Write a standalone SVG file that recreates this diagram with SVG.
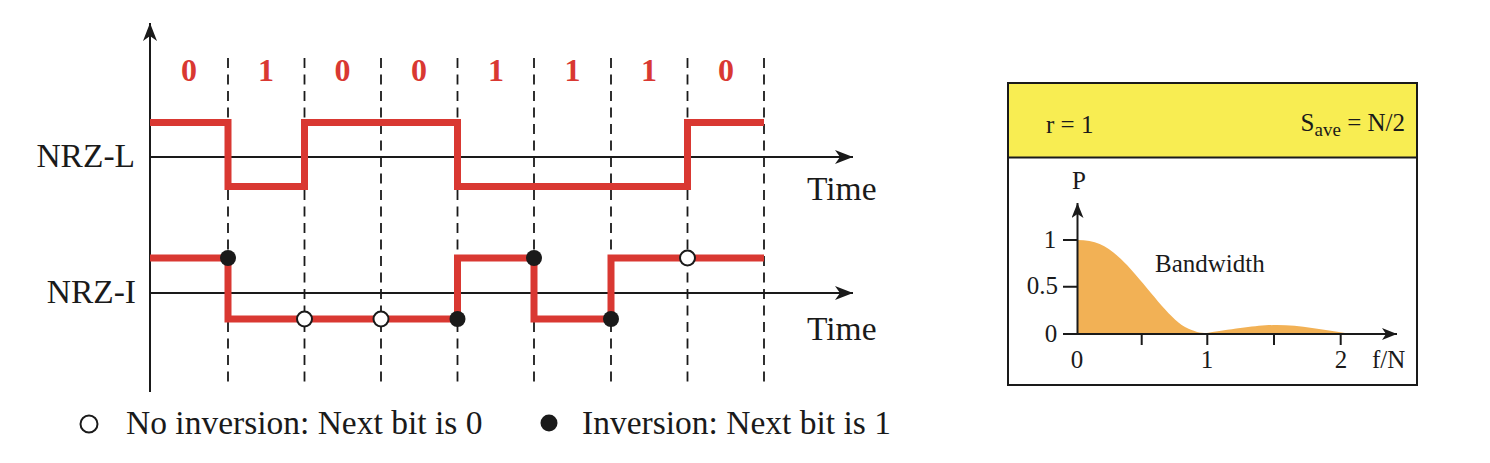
<svg xmlns="http://www.w3.org/2000/svg" width="1490" height="463" viewBox="0 0 1490 463">
<defs>
<style>
.axis{stroke:#1a1a1a;stroke-width:2;fill:none}
.dash{stroke:#1a1a1a;stroke-width:1.8;stroke-dasharray:10,6.5;fill:none}
.sig{stroke:#d93832;stroke-width:7;fill:none;stroke-linejoin:miter;stroke-linecap:butt}
.bit{font-family:"Liberation Serif",serif;font-weight:bold;font-size:32px;fill:#d93832;text-anchor:middle}
.lbl{font-family:"Liberation Serif",serif;font-size:33.5px;fill:#1a1a1a}
.sm{font-family:"Liberation Serif",serif;font-size:25px;fill:#1a1a1a}
.fdot{fill:#1a1a1a}
.odot{fill:#fff;stroke:#1a1a1a;stroke-width:2}
</style>
<marker id="ah" markerWidth="20" markerHeight="14" refX="18" refY="7" orient="auto" markerUnits="userSpaceOnUse">
<path d="M0,0 L18,7 L0,14 L5,7 Z" fill="#1a1a1a"/>
</marker>
<marker id="ahs" markerWidth="16" markerHeight="12" refX="15" refY="6" orient="auto" markerUnits="userSpaceOnUse">
<path d="M0,0 L15,6 L0,12 L4,6 Z" fill="#1a1a1a"/>
</marker>
</defs>
<rect width="1490" height="463" fill="#fff"/>

<g id="grid">
<path class="dash" d="M228,58V387M304.5,58V387M381,58V387M457.5,58V387M534,58V387M611,58V387M687.5,58V387M764,58V387"/>
</g>

<g id="bits">
<text class="bit" x="189" y="81">0</text>
<text class="bit" x="266" y="81">1</text>
<text class="bit" x="342.5" y="81">0</text>
<text class="bit" x="419" y="81">0</text>
<text class="bit" x="496" y="81">1</text>
<text class="bit" x="572.5" y="81">1</text>
<text class="bit" x="649" y="81">1</text>
<text class="bit" x="726" y="81">0</text>
</g>

<g id="connectors">
<line class="axis" x1="150" y1="392" x2="150" y2="23" marker-end="url(#ah)"/>
<line class="axis" x1="150" y1="157" x2="853" y2="157" marker-end="url(#ah)"/>
<line class="axis" x1="150" y1="293" x2="853" y2="293" marker-end="url(#ah)"/>
</g>

<g id="nrzl">
<path class="sig" d="M150,122.5H228V186.5H304.5V122.5H457.5V186.5H687.5V122.5H764"/>
<text class="lbl" x="135" y="167" text-anchor="end">NRZ-L</text>
<text class="lbl" x="807" y="200">Time</text>
</g>

<g id="nrzi">
<path class="sig" d="M150,258H228V319H457.5V258H534V319H611V258H764"/>
<circle class="fdot" cx="228" cy="258" r="8"/>
<circle class="odot" cx="304.5" cy="319" r="7.5"/>
<circle class="odot" cx="381" cy="319" r="7.5"/>
<circle class="fdot" cx="457.5" cy="319" r="8"/>
<circle class="fdot" cx="534" cy="258" r="8"/>
<circle class="fdot" cx="611" cy="319" r="8"/>
<circle class="odot" cx="687.5" cy="258" r="7.5"/>
<text class="lbl" x="136" y="303" text-anchor="end">NRZ-I</text>
<text class="lbl" x="807" y="340">Time</text>
</g>

<g id="legend">
<circle class="odot" cx="89" cy="424" r="8.5"/>
<text class="lbl" x="126" y="434">No inversion: Next bit is 0</text>
<circle class="fdot" cx="549" cy="423" r="8.5"/>
<text class="lbl" x="582" y="434">Inversion: Next bit is 1</text>
</g>

<g id="panel">
<rect x="1008" y="83" width="409" height="74.5" fill="#f8ed52"/>
<rect x="1008" y="83" width="409" height="302" fill="none" stroke="#1a1a1a" stroke-width="2"/>
<line x1="1008" y1="157.5" x2="1417" y2="157.5" stroke="#1a1a1a" stroke-width="2"/>
<text class="sm" x="1046" y="133">r = 1</text>
<text class="sm" x="1405" y="131" text-anchor="end">S<tspan font-size="19" dy="5">ave</tspan><tspan dy="-5"> = N/2</tspan></text>
</g>

<g id="chart">
<path d="M1077,334V240C1100,240 1110,248 1127,265C1150,290 1168,317 1185,327C1195,332 1200,333 1207,333C1240,328 1258,325 1277,325C1300,325 1325,330 1345,333V334Z" fill="#f2b155"/>
<line class="axis" x1="1077.5" y1="334" x2="1077.5" y2="203" marker-end="url(#ahs)"/>
<line class="axis" x1="1077" y1="334" x2="1397" y2="334" marker-end="url(#ahs)"/>
<path class="axis" d="M1063,240H1077M1063,286.7H1077M1063,334H1077M1141.7,334V345M1207.3,334V345M1274,334V345M1340.7,334V345"/>
<text class="sm" x="1079" y="189" text-anchor="middle">P</text>
<text class="sm" x="1050" y="248" text-anchor="middle">1</text>
<text class="sm" x="1058" y="294" text-anchor="end">0.5</text>
<text class="sm" x="1051" y="342" text-anchor="middle">0</text>
<text class="sm" x="1077" y="368" text-anchor="middle">0</text>
<text class="sm" x="1207" y="368" text-anchor="middle">1</text>
<text class="sm" x="1341" y="368" text-anchor="middle">2</text>
<text class="sm" x="1372" y="368">f/N</text>
<text class="sm" x="1155" y="272" font-size="27">Bandwidth</text>
</g>
</svg>
